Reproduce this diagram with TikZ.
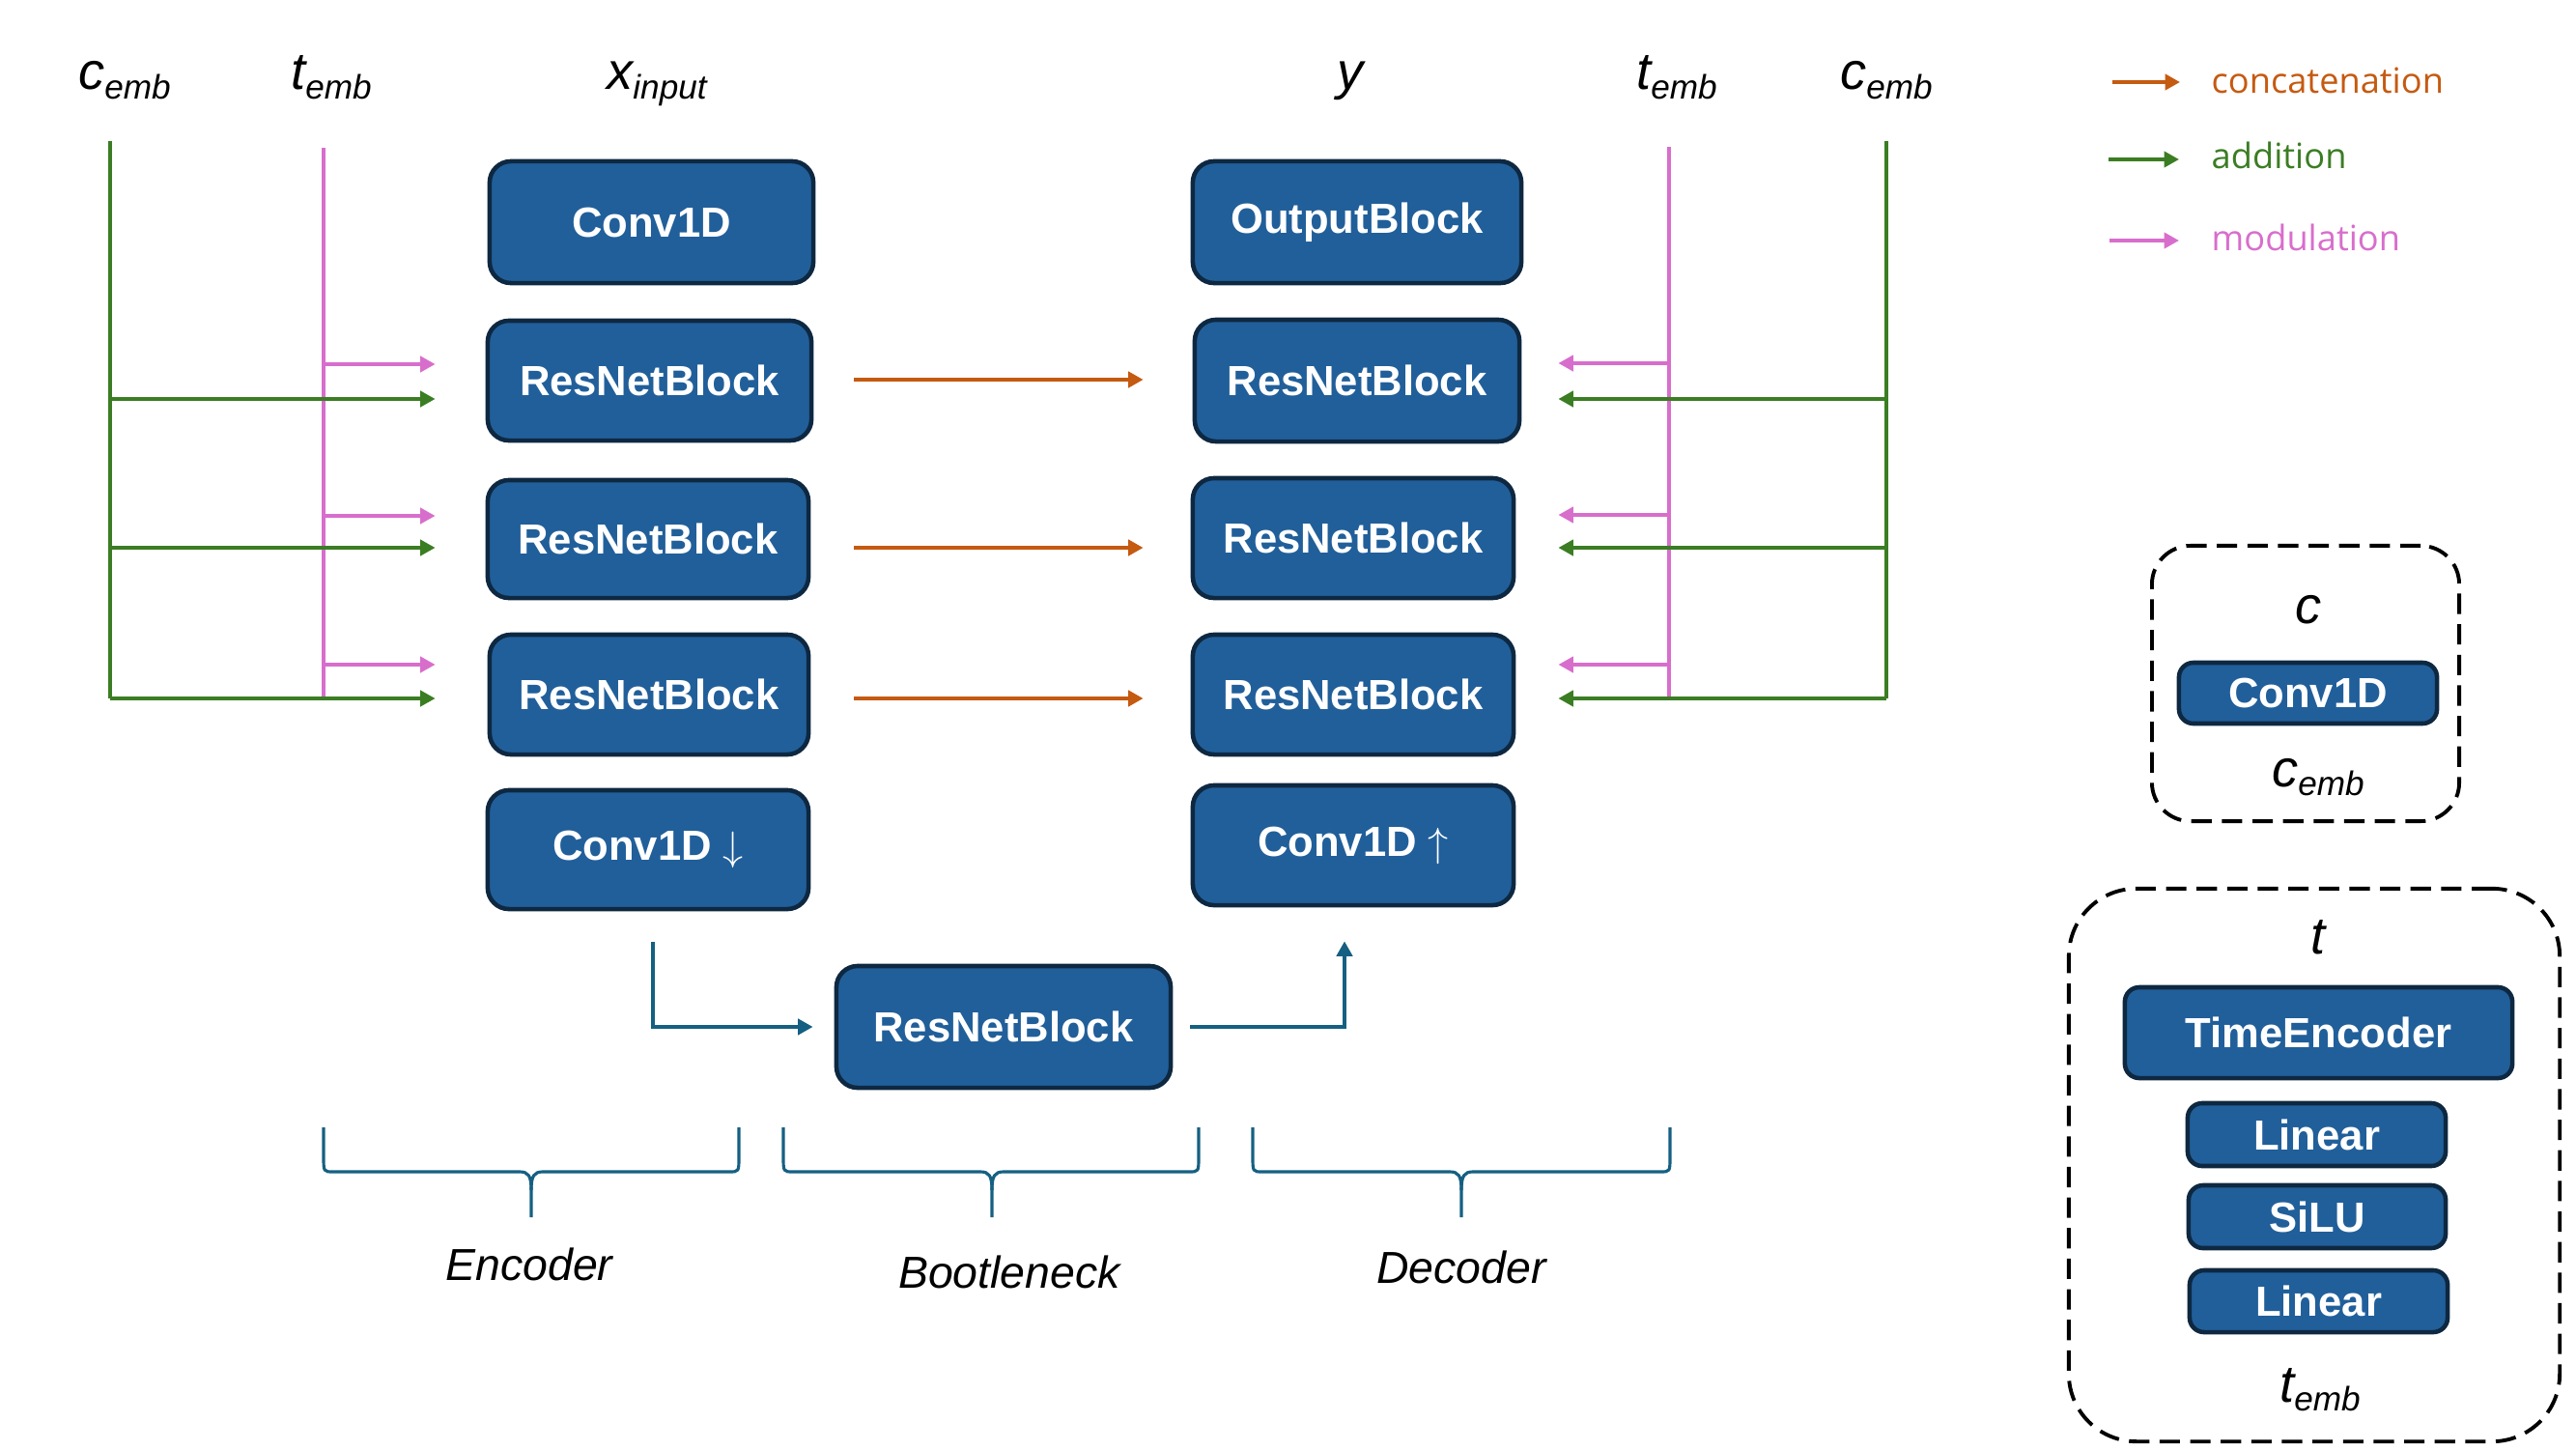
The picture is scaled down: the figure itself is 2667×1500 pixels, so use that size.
\documentclass[tikz,border=0pt]{standalone}
\usepackage{fontspec}
\setmainfont{Liberation Sans}
\newfontfamily\legendfont{Open Sans}
\usetikzlibrary{arrows.meta}
\definecolor{boxfill}{HTML}{215F9A}
\definecolor{boxline}{HTML}{0E2841}
\definecolor{tealc}{HTML}{156082}
\definecolor{concatc}{HTML}{C55A11}
\definecolor{addc}{HTML}{3B7D23}
\definecolor{modc}{HTML}{D86ECC}
\newcommand{\emblabel}[2]{{\fontsize{15.4}{18}\selectfont\itshape #1\raisebox{-2.8pt}{\fontsize{10}{12}\selectfont #2}}}
\newcommand{\sectbrace}[3]{%
  \draw[bracestyle] (#1,1167) -- (#1,1197) .. controls (#1,1213) .. (#1+10,1213) -- (#3-12,1213) .. controls (#3-3,1213) and (#3,1217) .. (#3,1232) -- (#3,1260);
  \draw[bracestyle] (#2,1167) -- (#2,1197) .. controls (#2,1213) .. (#2-10,1213) -- (#3+12,1213) .. controls (#3+3,1213) and (#3,1217) .. (#3,1232);
}
\tikzset{
  blk/.style={draw=boxline, line width=1.3pt, fill=boxfill, rounded corners=0.22cm, text=white,
    font=\bfseries\fontsize{12.4}{14}\selectfont, inner sep=0pt},
  smallblk/.style={blk, rounded corners=0.15cm},
  tip/.style={-{Triangle[length=4.4pt,width=4.6pt]}},
  conarrow/.style={draw=concatc, line width=1.1pt, tip},
  addarrow/.style={draw=addc, line width=1pt, tip},
  modarrow/.style={draw=modc, line width=1pt, tip},
  addline/.style={draw=addc, line width=1pt},
  modline/.style={draw=modc, line width=1pt},
  flow/.style={draw=tealc, line width=1.1pt, tip},
  bracestyle/.style={draw=tealc, line width=0.9pt},
  dashbox/.style={draw=black, line width=1.1pt, dash pattern=on 6pt off 3pt},
  lbl/.style={inner sep=0pt, anchor=base},
  sectlbl/.style={inner sep=0pt, anchor=base, font=\fontsize{13.2}{15}\selectfont\itshape},
  legtext/.style={inner sep=0pt, anchor=base west, font=\legendfont\fontsize{10.3}{12}\selectfont},
}
\begin{document}
\begin{tikzpicture}[x=0.01cm, y=-0.01cm]
\useasboundingbox (0,0) rectangle (2667,1500);

% top labels
\node[lbl] (lcL) at (129,93) {\emblabel{c}{emb}};
\node[lbl] (ltL) at (343,93) {\emblabel{t}{emb}};
\node[lbl] (lx) at (680,93) {\emblabel{x}{input}};
\node[lbl] (ly) at (1398,93) {\emblabel{y}{}};
\node[lbl] (ltR) at (1736,93) {\emblabel{t}{emb}};
\node[lbl] (lcR) at (1953,93) {\emblabel{c}{emb}};

% encoder
\node[blk, minimum width=3.35cm, minimum height=1.26cm] (eC) at (674.5,230) {Conv1D};
\node[blk, minimum width=3.35cm, minimum height=1.24cm] (e1) at (672.5,394) {ResNetBlock};
\node[blk, minimum width=3.32cm, minimum height=1.22cm] (e2) at (671,558) {ResNetBlock};
\node[blk, minimum width=3.30cm, minimum height=1.24cm] (e3) at (672,719) {ResNetBlock};
\node[blk, minimum width=3.32cm, minimum height=1.23cm] (eD) at (671,879.5) {Conv1D $\downarrow$};

% decoder
\node[blk, minimum width=3.40cm, minimum height=1.26cm] (dO) at (1405,230) {OutputBlock};
\node[blk, minimum width=3.36cm, minimum height=1.26cm] (d1) at (1405,394) {ResNetBlock};
\node[blk, minimum width=3.32cm, minimum height=1.24cm] (d2) at (1401,557) {ResNetBlock};
\node[blk, minimum width=3.32cm, minimum height=1.24cm] (d3) at (1401,719) {ResNetBlock};
\node[blk, minimum width=3.32cm, minimum height=1.24cm] (dU) at (1401,875) {Conv1D $\uparrow$};

% bottleneck
\node[blk, minimum width=3.46cm, minimum height=1.26cm] (bott) at (1039,1063) {ResNetBlock};

% left embedding lines
\coordinate (cLt) at (114,146); \coordinate (cLb) at (114,723);
\coordinate (tLt) at (335,153); \coordinate (tLb) at (335,723);
\draw[modline] (tLt) -- (tLb);
\draw[addline] (cLt) -- (cLb);
\coordinate (tL1) at (335,377); \coordinate (tL2) at (335,534); \coordinate (tL3) at (335,688);
\coordinate (cL1) at (114,413); \coordinate (cL2) at (114,567); \coordinate (cL3) at (114,723);
\draw[modarrow, shorten >=0.52cm] (tL1) -- (tL1 -| e1.west);
\draw[modarrow, shorten >=0.52cm] (tL2) -- (tL2 -| e2.west);
\draw[modarrow, shorten >=0.54cm] (tL3) -- (tL3 -| e3.west);
\draw[addarrow, shorten >=0.52cm] (cL1) -- (cL1 -| e1.west);
\draw[addarrow, shorten >=0.52cm] (cL2) -- (cL2 -| e2.west);
\draw[addarrow, shorten >=0.54cm] (cL3) -- (cL3 -| e3.west);

% right embedding lines
\coordinate (tRt) at (1728,152); \coordinate (tRb) at (1728,723);
\coordinate (cRt) at (1953,146); \coordinate (cRb) at (1953,723);
\draw[modline] (tRt) -- (tRb);
\draw[addline] (cRt) -- (cRb);
\coordinate (tR1) at (1728,376); \coordinate (tR2) at (1728,533); \coordinate (tR3) at (1728,688);
\coordinate (cR1) at (1953,413); \coordinate (cR2) at (1953,567); \coordinate (cR3) at (1953,723);
\draw[modarrow, shorten >=0.38cm] (tR1) -- (tR1 -| d1.east);
\draw[modarrow, shorten >=0.44cm] (tR2) -- (tR2 -| d2.east);
\draw[modarrow, shorten >=0.44cm] (tR3) -- (tR3 -| d3.east);
\draw[addarrow, shorten >=0.38cm] (cR1) -- (cR1 -| d1.east);
\draw[addarrow, shorten >=0.44cm] (cR2) -- (cR2 -| d2.east);
\draw[addarrow, shorten >=0.44cm] (cR3) -- (cR3 -| d3.east);

% skip concatenations
\draw[conarrow, shorten <=0.42cm, shorten >=0.51cm] ([yshift=0.01cm]e1.east) -- ([yshift=0.01cm]e1.east -| d1.west);
\draw[conarrow, shorten <=0.45cm, shorten >=0.49cm] ([yshift=-0.09cm]e2.east) -- ([yshift=-0.09cm]e2.east -| d2.west);
\draw[conarrow, shorten <=0.45cm, shorten >=0.49cm] ([yshift=-0.04cm]e3.east) -- ([yshift=-0.04cm]e3.east -| d3.west);

% bottleneck flow
\draw[flow, shorten <=0.32cm, shorten >=0.22cm] ([xshift=0.05cm]eD.south) |- (bott.west);
\draw[flow, shorten <=0.18cm, shorten >=0.35cm] (bott.east) -| ([xshift=-0.09cm]dU.south);

% braces
\sectbrace{335}{765}{550}
\sectbrace{811}{1241}{1027}
\sectbrace{1297}{1729}{1513}
\node[sectlbl] (lenc) at (548,1325) {Encoder};
\node[sectlbl] (lbot) at (1045,1333) {Bootleneck};
\node[sectlbl] (ldec) at (1513,1328) {Decoder};

% legend
\coordinate (lg1a) at (2187,85); \coordinate (lg1b) at (2257,85);
\coordinate (lg2a) at (2183,165); \coordinate (lg2b) at (2256,165);
\coordinate (lg3a) at (2184,249); \coordinate (lg3b) at (2256,249);
\draw[conarrow] (lg1a) -- (lg1b);
\draw[addarrow] (lg2a) -- (lg2b);
\draw[modarrow] (lg3a) -- (lg3b);
\node[legtext, text=concatc] (lgt1) at (2289,97) {concatenation};
\node[legtext, text=addc] (lgt2) at (2289,175) {addition};
\node[legtext, text=modc] (lgt3) at (2289,259) {modulation};

% c encoder box
\node[dashbox, rounded corners=0.4cm, minimum width=3.18cm, minimum height=2.85cm] (cbox) at (2387,707.5) {};
\node[lbl] (lc) at (2390,645) {\emblabel{c}{}};
\node[smallblk, minimum width=2.67cm, minimum height=0.63cm] (cconv) at (2389.5,717.5) {Conv1D};
\node[lbl] (lcemb) at (2400,814) {\emblabel{c}{emb}};

% t encoder box
\node[dashbox, rounded corners=0.7cm, minimum width=5.08cm, minimum height=5.72cm] (tbox) at (2396,1206) {};
\node[lbl] (lt) at (2400,987) {\emblabel{t}{}};
\node[smallblk, minimum width=4.01cm, minimum height=0.94cm] (tenc) at (2400.5,1069) {TimeEncoder};
\node[smallblk, minimum width=2.67cm, minimum height=0.65cm] (lin1) at (2398.5,1174.5) {Linear};
\node[smallblk, minimum width=2.66cm, minimum height=0.65cm] (silu) at (2399,1259.5) {SiLU};
\node[smallblk, minimum width=2.67cm, minimum height=0.64cm] (lin2) at (2400.5,1347) {Linear};
\node[lbl] (ltemb) at (2402,1451) {\emblabel{t}{emb}};
\end{tikzpicture}
\end{document}
